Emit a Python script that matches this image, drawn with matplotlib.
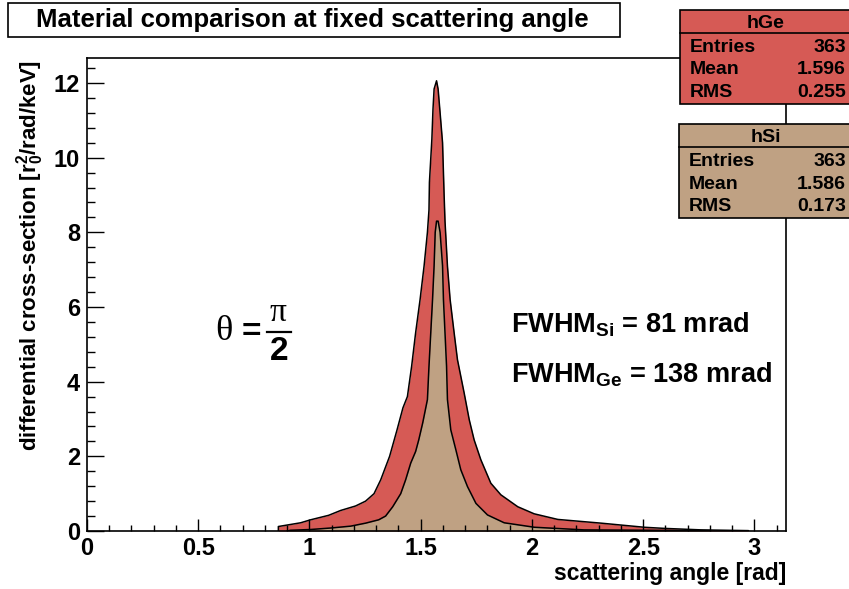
import matplotlib
matplotlib.use("Agg")
import matplotlib.pyplot as plt
from matplotlib.patches import Rectangle
from matplotlib.lines import Line2D
from matplotlib.ticker import MultipleLocator

plt.rcParams['font.family'] = ['Liberation Sans', 'DejaVu Sans']
plt.rcParams['font.weight'] = 'bold'
plt.rcParams['mathtext.fontset'] = 'custom'
plt.rcParams['mathtext.bf'] = 'Liberation Sans:bold'
plt.rcParams['mathtext.rm'] = 'Liberation Sans:bold'

# histogram outlines (angle in rad, cross-section)
ge_x = [0.86, 0.86, 0.96, 1.005, 1.086, 1.14, 1.207, 1.252, 1.29, 1.32, 1.36,
        1.393, 1.42, 1.44, 1.459, 1.477, 1.497, 1.515, 1.53, 1.537, 1.539,
        1.55, 1.555, 1.56, 1.571, 1.578, 1.587, 1.598, 1.605, 1.609, 1.62,
        1.632, 1.65, 1.665, 1.695, 1.718, 1.74, 1.77, 1.815, 1.86, 1.936,
        2.01, 2.116, 2.311, 2.505, 2.595, 2.761, 2.973, 2.973]
ge_y = [0, 0.12, 0.22, 0.30, 0.42, 0.55, 0.67, 0.80, 1.0, 1.37, 2.0,
        2.7, 3.3, 3.6, 4.41, 5.31, 6.2, 7.1, 8.0, 8.6, 9.34,
        10.5, 11.3, 11.84, 12.06, 11.84, 11.2, 10.4, 9.0, 8.3, 7.1,
        6.2, 5.31, 4.59, 3.70, 2.98, 2.44, 1.91, 1.28, 0.97, 0.65,
        0.46, 0.31, 0.21, 0.10, 0.07, 0.03, 0.01, 0]

si_x = [0.90, 0.914, 1.005, 1.095, 1.185, 1.252, 1.311, 1.342, 1.374, 1.41,
        1.432, 1.455, 1.477, 1.491, 1.509, 1.53, 1.537, 1.545, 1.553, 1.56,
        1.565, 1.571, 1.578, 1.587, 1.598, 1.602, 1.609, 1.616, 1.62, 1.635,
        1.658, 1.68, 1.71, 1.748, 1.80, 1.875, 2.011, 2.234, 2.80, 2.80]
si_y = [0, 0.02, 0.04, 0.08, 0.13, 0.21, 0.30, 0.40, 0.65, 1.0,
        1.37, 1.82, 2.13, 2.44, 2.9, 3.52, 4.41, 5.31, 6.2, 7.1,
        8.0, 8.3, 8.3, 8.0, 7.1, 6.2, 5.31, 4.41, 3.52, 2.71,
        2.17, 1.64, 1.19, 0.74, 0.43, 0.22, 0.10, 0.03, 0.01, 0]

stats_ge = [("Entries", "363"), ("Mean", "1.596"), ("RMS", "0.255")]
stats_si = [("Entries", "363"), ("Mean", "1.586"), ("RMS", "0.173")]

col_ge = '#d65a55'
col_si = '#bfa183'

W, H = 849, 589
fig = plt.figure(figsize=(W / 100, H / 100), dpi=100)

def fx(px):
    return px / W

def fy(py):
    return 1 - py / H

ax = fig.add_axes([fx(87), fy(531), fx(786) - fx(87), fy(58) - fy(531)])

ax.fill_between(ge_x, ge_y, color=col_ge, lw=0)
ax.plot(ge_x, ge_y, color='black', lw=1.1)
ax.fill_between(si_x, si_y, color=col_si, lw=0)
ax.plot(si_x, si_y, color='black', lw=1.1)

ax.set_xlim(0, 3.1416)
ax.set_ylim(0, 12.67)
ax.xaxis.set_major_locator(MultipleLocator(0.5))
ax.xaxis.set_minor_locator(MultipleLocator(0.1))
ax.yaxis.set_major_locator(MultipleLocator(2))
ax.yaxis.set_minor_locator(MultipleLocator(0.4))
ax.xaxis.set_major_formatter(plt.FuncFormatter(lambda v, p: '%g' % v))
ax.tick_params(which='both', direction='in', top=False, right=False,
               labelsize=17, width=1)
ax.tick_params(axis='x', which='major', length=9, pad=4)
ax.tick_params(axis='x', which='minor', length=4.5)
ax.tick_params(axis='y', which='major', length=12, pad=5)
ax.tick_params(axis='y', which='minor', length=6)
for s in ax.spines.values():
    s.set_linewidth(1.2)

ax.text(1.0, -0.065, 'scattering angle [rad]', transform=ax.transAxes,
        ha='right', va='top', fontsize=16.5)
ax.text(-0.082, 0.995,
        r'differential cross-section [$\mathbf{r}_\mathbf{0}^\mathbf{2}$/rad/keV]',
        transform=ax.transAxes, rotation=90, ha='center', va='top', fontsize=16)

# theta = pi/2
ax.text(0.617, 5.34, 'θ', family=['Liberation Serif'], fontweight='normal',
        fontsize=26, ha='center', va='center')
ax.text(0.74, 5.32, '=', fontsize=24, ha='center', va='center')
ax.text(0.86, 5.85, 'π', family=['Liberation Serif'], fontweight='normal',
        fontsize=24, ha='center', va='center')
ax.plot([0.81, 0.915], [5.32, 5.32], color='black', lw=1.6)
ax.text(0.862, 4.80, '2', fontsize=24, ha='center', va='center')

ax.text(1.905, 5.32, r'FWHM$_\mathbf{Si}$ = 81 mrad', fontsize=19.5,
        ha='left', va='baseline')
ax.text(1.905, 3.97, r'FWHM$_\mathbf{Ge}$ = 138 mrad', fontsize=19.5,
        ha='left', va='baseline')

# title box
fig.patches.append(Rectangle((fx(8), fy(37)), fx(620) - fx(8), fy(3) - fy(37),
                             transform=fig.transFigure, facecolor='white',
                             edgecolor='black', lw=1.2))
fig.text(fx(312), fy(20), 'Material comparison at fixed scattering angle',
         ha='center', va='center', fontsize=18.5)

# stats boxes
def stats_box(top, name, rows, color, left):
    bottom = top + 94
    fig.patches.append(Rectangle((fx(left), fy(bottom)), fx(852) - fx(left),
                                 fy(top) - fy(bottom), transform=fig.transFigure,
                                 facecolor=color, edgecolor='black', lw=1.2,
                                 zorder=5))
    fig.lines.append(Line2D([fx(left), fx(852)], [fy(top + 23), fy(top + 23)],
                            transform=fig.transFigure, color='black', lw=1.2,
                            zorder=6))
    fig.text(fx(766), fy(top + 18), name, ha='center', va='baseline',
             fontsize=14, zorder=7)
    for i, (k, v) in enumerate(rows):
        yb = top + 42 + i * 22.5
        fig.text(fx(left + 10), fy(yb), k, ha='left', va='baseline',
                 fontsize=14, zorder=7)
        fig.text(fx(846), fy(yb), v, ha='right', va='baseline',
                 fontsize=14, zorder=7)

stats_box(10, 'hGe', stats_ge, col_ge, 680)
stats_box(124, 'hSi', stats_si, col_si, 679)

fig.savefig('out.png', dpi=100)
